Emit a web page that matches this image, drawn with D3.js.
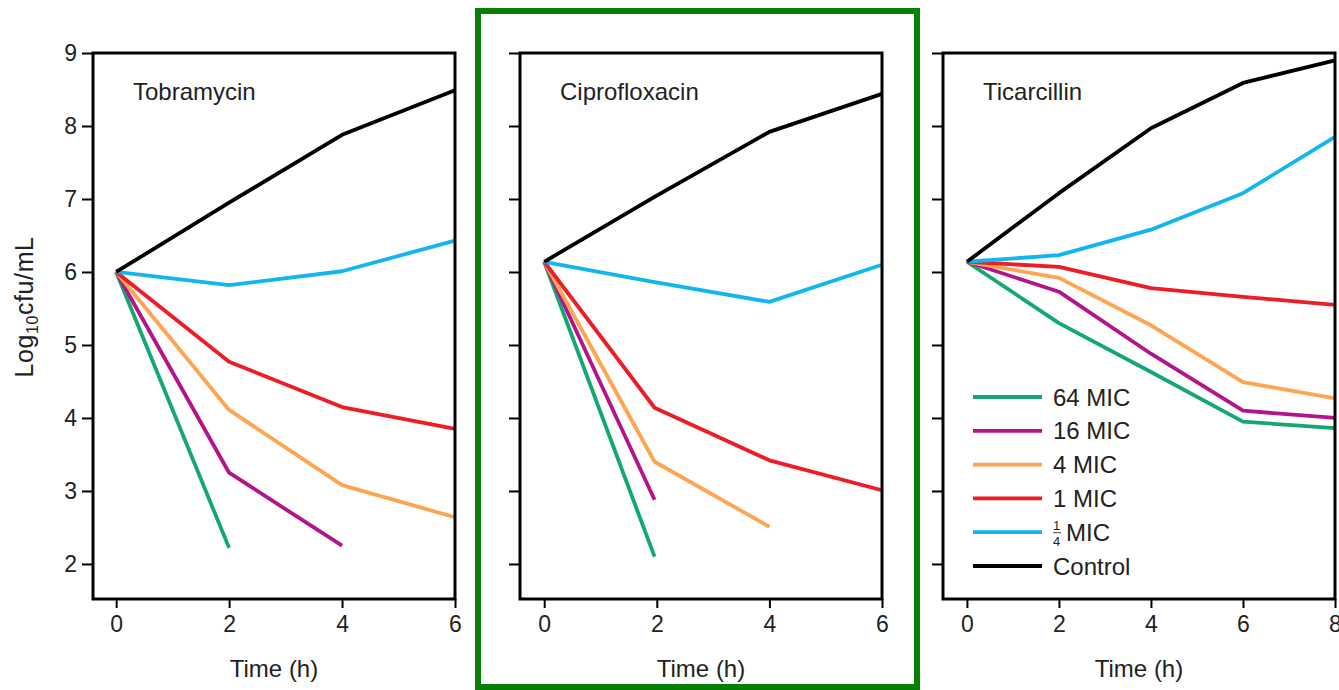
<!DOCTYPE html>
<html><head><meta charset="utf-8">
<script src="https://cdn.jsdelivr.net/npm/d3@7"></script>
<style>
body{margin:0;background:#fff;}
svg text{font-family:"Liberation Sans",Arial,Helvetica,sans-serif;fill:#222;}
</style></head>
<body><svg id="c" width="1339" height="690"></svg>
<script>
// ---- data ----
const seriesNames = ["64 MIC","16 MIC","4 MIC","1 MIC","¼ MIC","Control"];
const seriesColors = ["#13a872","#b3148c","#ffa552","#ee1c25","#12b6ef","#000000"];
const panelTitles = ["Tobramycin","Ciprofloxacin","Ticarcillin"];
const yTicks = [2,3,4,5,6,7,8,9];
const xTicksShort = [0,2,4,6];
const xTicksLong = [0,2,4,6,8];

// Tobramycin (times 0,2,4,6)
const tobraTimes = [0,2,4,6];
const tobra64 = [6.0,2.22];
const tobra16 = [6.0,3.25,2.25];
const tobra4 = [6.0,4.11,3.08,2.64];
const tobra1 = [6.0,4.77,4.15,3.85];
const tobraQ = [6.0,5.82,6.01,6.43];
const tobraC = [6.0,6.95,7.88,8.49];

// Ciprofloxacin (times 0,2,4,6)
const ciproTimes = [0,1.96,4,6];
const cipro64 = [6.14,2.10];
const cipro16 = [6.14,2.88];
const cipro4 = [6.14,3.40,2.51];
const cipro1 = [6.14,4.14,3.42,3.01];
const ciproQ = [6.14,5.86,5.59,6.10];
const ciproC = [6.14,7.03,7.92,8.44];

// Ticarcillin (times 0,2,4,6,8)
const ticarTimes = [0,2,4,6,8];
const ticar64 = [6.14,5.30,4.63,3.95,3.86];
const ticar16 = [6.14,5.73,4.88,4.10,4.00];
const ticar4 = [6.14,5.92,5.27,4.49,4.27];
const ticar1 = [6.14,6.07,5.78,5.66,5.55];
const ticarQ = [6.14,6.23,6.58,7.08,7.85];
const ticarC = [6.14,7.08,7.97,8.59,8.90];

const panels = [
  {title:panelTitles[0], times:tobraTimes, series:[tobra64,tobra16,tobra4,tobra1,tobraQ,tobraC], xTicks:xTicksShort, xDom:[-0.41,6], left:93, right:455, yLabels:true},
  {title:panelTitles[1], times:ciproTimes, series:[cipro64,cipro16,cipro4,cipro1,ciproQ,ciproC], xTicks:xTicksShort, xDom:[-0.43,6], left:520, right:882, yLabels:false},
  {title:panelTitles[2], times:ticarTimes, series:[ticar64,ticar16,ticar4,ticar1,ticarQ,ticarC], xTicks:xTicksLong, xDom:[-0.52,8], left:943, right:1335, yLabels:false, legend:true}
];

const svg = d3.select("#c");
const plotTop = 53, plotBottom = 599;
const y = d3.scaleLinear().domain([1.52,9]).range([plotBottom, plotTop]);

// green highlight frame
svg.append("rect").attr("x",478).attr("y",11).attr("width",439).attr("height",676)
  .attr("fill","none").attr("stroke","#058005").attr("stroke-width",6);

panels.forEach(p=>{
  const x = d3.scaleLinear().domain(p.xDom).range([p.left,p.right]);
  const g = svg.append("g");
  const ya = d3.axisLeft(y).tickValues(yTicks).tickSize(11).tickPadding(5)
    .tickFormat(p.yLabels ? d3.format("d") : ()=>"");
  const yg = g.append("g").attr("transform",`translate(${p.left},0)`).call(ya);
  yg.select(".domain").remove();
  yg.selectAll(".tick line").attr("stroke","#000").attr("stroke-width",2);
  yg.selectAll(".tick text").attr("font-size",23).attr("fill","#222");
  const xa = d3.axisBottom(x).tickValues(p.xTicks).tickSize(9).tickPadding(8).tickFormat(d3.format("d"));
  const xg = g.append("g").attr("transform",`translate(0,${plotBottom})`).call(xa);
  xg.select(".domain").remove();
  xg.selectAll(".tick line").attr("stroke","#000").attr("stroke-width",2);
  xg.selectAll(".tick text").attr("font-size",23).attr("fill","#222");
  g.append("text").attr("x",(p.left+p.right)/2).attr("y",677).attr("text-anchor","middle")
    .attr("font-size",24).text("Time (h)");
  const line = d3.line().x((d,i)=>x(p.times[i])).y(d=>y(d));
  p.series.forEach((s,i)=>{
    g.append("path").attr("d",line(s)).attr("fill","none").attr("stroke",seriesColors[i])
      .attr("stroke-width",3.8).attr("stroke-linejoin","round").attr("stroke-linecap","butt");
  });
  g.append("rect").attr("x",p.left).attr("y",plotTop).attr("width",p.right-p.left).attr("height",plotBottom-plotTop)
    .attr("fill","none").attr("stroke","#000").attr("stroke-width",3);
  g.append("text").attr("x",p.left+40).attr("y",100).attr("font-size",24).text(p.title);
  if(p.legend){
    const lg = g.append("g");
    seriesNames.forEach((n,i)=>{
      const yy = 397 + i*33.8;
      lg.append("line").attr("x1",973).attr("x2",1042).attr("y1",yy).attr("y2",yy)
        .attr("stroke",seriesColors[i]).attr("stroke-width",3.8);
      if(n==="¼ MIC"){
        const t = lg.append("text").attr("x",1053).attr("y",yy+8.5).attr("font-size",24);
        t.append("tspan").attr("font-size",13).attr("x",1053).attr("dy",-11).text("1");
        t.append("tspan").attr("font-size",13).attr("x",1053).attr("dy",16).text("4");
        t.append("tspan").attr("x",1066).attr("dy",-5).text("MIC");
        lg.append("line").attr("x1",1053).attr("x2",1061).attr("y1",yy+0.5).attr("y2",yy+0.5)
          .attr("stroke","#444").attr("stroke-width",1);
      } else {
        lg.append("text").attr("x",1053).attr("y",yy+8.5).attr("font-size",24).text(n);
      }
    });
  }
});

const yt = svg.append("text").attr("transform","translate(33,307) rotate(-90)").attr("text-anchor","middle")
  .attr("font-size",25).attr("letter-spacing",0.6);
yt.append("tspan").text("Log");
yt.append("tspan").attr("font-size",16).attr("dy",5).text("10");
yt.append("tspan").attr("dy",-5).text("cfu/mL");
</script></body></html>
